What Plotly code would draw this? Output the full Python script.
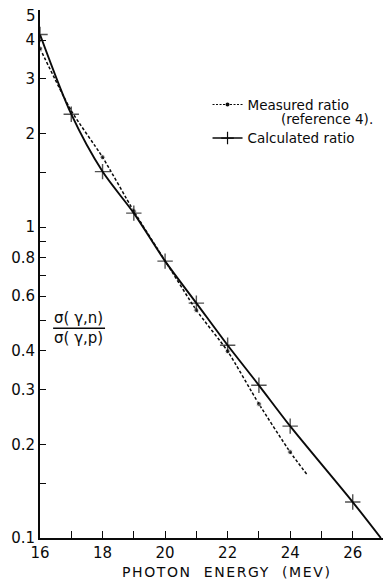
import math
import plotly.graph_objects as go

# Data
measured_x = [16, 17, 18, 19, 20, 21, 22, 23, 24, 24.55]
measured_y = [3.76, 2.37, 1.68, 1.126, 0.78, 0.541, 0.399, 0.27, 0.189, 0.1595]
measured_marker = [5, 0, 5, 5, 0, 5, 5, 5, 5, 0]

calc_x = [16, 17, 18, 19, 20, 21, 22, 23, 24, 26, 26.9]
calc_y = [4.17, 2.31, 1.51, 1.11, 0.778, 0.57, 0.417, 0.31, 0.229, 0.1305, 0.1]
calc_marker = [11, 11, 11, 11, 11, 11, 11, 11, 11, 11, 0]

x_tickvals = list(range(16, 28))
x_ticktext = [str(v) if v % 2 == 0 and v <= 26 else "" for v in x_tickvals]
y_tickvals = [0.1, 0.15, 0.2, 0.3, 0.4, 0.5, 0.6, 0.7, 0.8, 0.9, 1, 1.5, 2, 3, 4, 5]
y_ticktext = ["0.1", "", "0.2", "0.3", "0.4", "", "0.6", "", "0.8", "", "1", "", "2", "3", "4", ""]
top_label = "5"

FONT = "DejaVu Sans"
INK = "#0a0a0a"

fig = go.Figure()

fig.add_trace(go.Scatter(
    x=measured_x, y=measured_y, mode="lines+markers",
    line=dict(color=INK, width=1.5, dash="3px,2px", shape="spline", smoothing=0.6),
    marker=dict(symbol="circle", size=measured_marker, color=INK),
    showlegend=False, hoverinfo="skip"))

fig.add_trace(go.Scatter(
    x=calc_x, y=calc_y, mode="lines+markers",
    line=dict(color=INK, width=1.9, shape="spline", smoothing=0.8),
    marker=dict(symbol="cross-thin", size=calc_marker, line=dict(color=INK, width=1.4)),
    showlegend=False, hoverinfo="skip"))

# Legend entries
fig.add_trace(go.Scatter(
    x=[None], y=[None], mode="lines+markers",
    name="Measured ratio", legendgroup="m",
    line=dict(color=INK, width=1.2, dash="2px,1.5px"),
    marker=dict(symbol="circle", size=4, color=INK)))
fig.add_trace(go.Scatter(
    x=[None], y=[None], mode="lines+markers",
    name="Calculated ratio", legendgroup="c",
    line=dict(color=INK, width=1.4),
    marker=dict(symbol="cross-thin", size=9, line=dict(color=INK, width=1.2))))

fig.update_layout(
    width=383, height=575,
    margin=dict(l=32, r=7, t=2, b=45),
    paper_bgcolor="white", plot_bgcolor="white",
    font=dict(family=FONT, size=15, color=INK),
    showlegend=True,
    legend=dict(x=0.487, y=0.850, xanchor="left", yanchor="top",
                bgcolor="rgba(0,0,0,0)", font=dict(family=FONT, size=13.5, color=INK),
                itemwidth=30, tracegroupgap=13),
    xaxis=dict(range=[16, 27], tickvals=x_tickvals, ticktext=x_ticktext,
               ticks="inside", ticklen=7, tickwidth=1.4, tickcolor=INK,
               showline=True, linecolor=INK, linewidth=2, showgrid=False,
               zeroline=False, tickfont=dict(size=15), mirror=False),
    yaxis=dict(type="log", range=[-1, math.log10(5)], tickvals=y_tickvals, ticktext=y_ticktext,
               ticks="inside", ticklen=6, tickwidth=1.4, tickcolor=INK,
               showline=True, linecolor=INK, linewidth=2, showgrid=False,
               zeroline=False, tickfont=dict(size=15), mirror=False),
)

# top y tick label, nudged down so it is not clipped
fig.add_annotation(text=top_label, xref="paper", yref="y", x=0, y=math.log10(5),
                   xanchor="right", yanchor="middle", xshift=-3, yshift=-6, borderpad=0,
                   showarrow=False, font=dict(family=FONT, size=15, color=INK))

# second line of the measured legend entry
fig.add_annotation(text="(reference 4).", xref="paper", yref="paper",
                   x=0.698, y=0.794, xanchor="left", yanchor="middle", borderpad=0,
                   showarrow=False, font=dict(family=FONT, size=13.5, color=INK))

# Axis title
fig.add_annotation(text='<span style="letter-spacing:1.6px">PHOTON  ENERGY  (MEV)</span>',
                   xref="x", yref="paper",
                   x=21.95, y=-0.0644, yanchor="middle", showarrow=False,
                   font=dict(family=FONT, size=14, color=INK))

# y label as fraction
frac_y = math.log10(0.473)
fig.add_annotation(text="σ( γ,n)", xref="x", yref="y", x=17.22, y=frac_y,
                   yanchor="bottom", showarrow=False, yshift=-1,
                   font=dict(family=FONT, size=15, color=INK))
fig.add_annotation(text="σ( γ,p)", xref="x", yref="y", x=17.22, y=frac_y,
                   yanchor="top", showarrow=False, yshift=1,
                   font=dict(family=FONT, size=15, color=INK))
fig.add_shape(type="line", xref="x", yref="y", x0=16.42, x1=18.08, y0=0.473, y1=0.473,
              line=dict(color=INK, width=1.4))

fig.write_html("out.html")
